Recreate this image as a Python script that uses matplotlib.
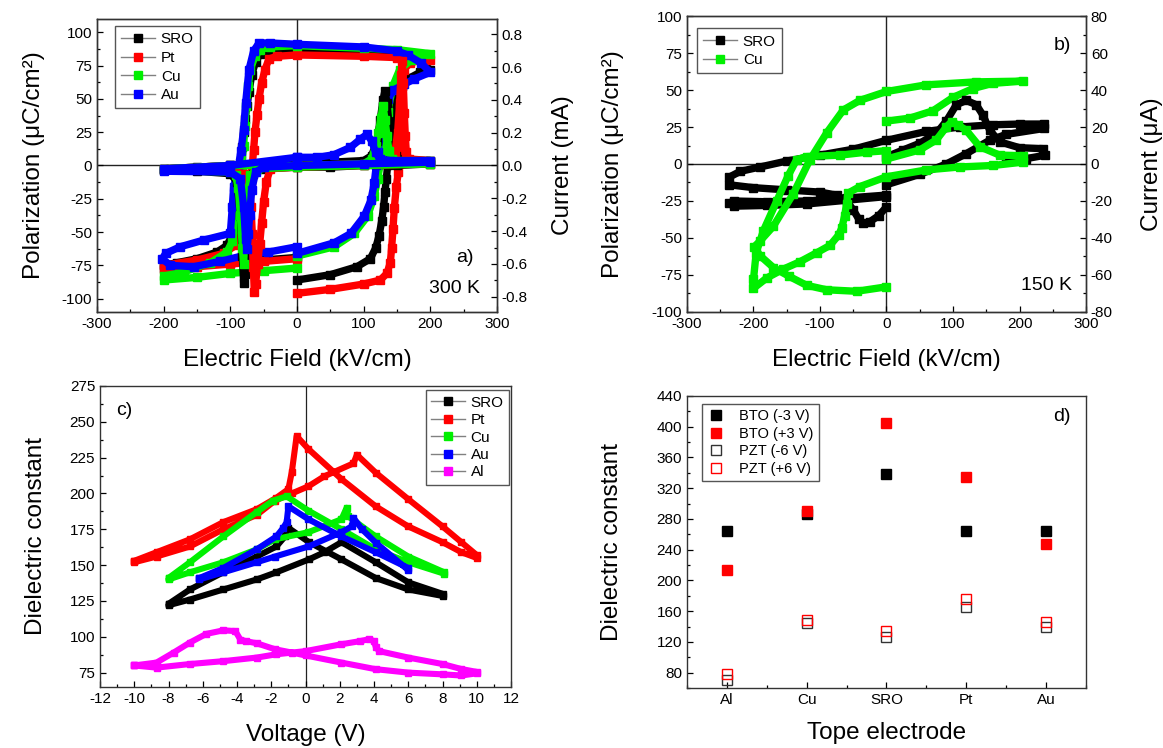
import matplotlib
matplotlib.use('Agg')
import matplotlib.pyplot as plt
from matplotlib.lines import Line2D
from matplotlib.ticker import MultipleLocator, FormatStrFormatter

plt.rcParams['font.family'] = ['Liberation Sans', 'DejaVu Sans']
plt.rcParams['axes.unicode_minus'] = False

# ---------------- Panel a data: P-E loops (uC/cm2) at 300 K ----------------
a_sro_E = [0, 50, 90, 110, 118, 123, 127, 130, 132, 134, 136, 138, 141, 145, 150, 158, 170, 185, 200, 180,
           150, 100, 0, -40, -55, -62, -68, -72, -75, -78, -80, -82, -84, -86, -88, -90, -93, -97, -105, -120,
           -150, -180, -200, -200, -150, -100, -50, 0]
a_sro_P = [-86, -82, -76, -70, -62, -53, -42, -31, -20, -10, 0, 12, 25, 38, 50, 60, 66, 70, 72, 80,
           84, 85, 86, 86, 84, 78, 68, 55, 45, 35, 25, 14, 4, -6, -18, -30, -42, -52, -60, -65,
           -70, -73, -75, -77, -75, -73, -71, -69]
a_pt_E = [0, 50, 100, 125, 135, 140, 142, 144, 146, 149, 152, 154, 156, 157, 158, 160, 170, 185, 200, 150,
          100, 0, -30, -42, -48, -53, -57, -60, -63, -65, -67, -69, -72, -76, -82, -92, -110, -150, -200, -200,
          -150, -100, -50, 0]
a_pt_P = [-96, -93, -89, -86, -81, -73, -62, -48, -32, -16, -5, 5, 20, 40, 60, 72, 77, 79, 79, 81,
          82, 83, 82, 80, 72, 62, 50, 38, 25, 12, 0, -12, -25, -38, -50, -60, -66, -71, -75, -78,
          -76, -74, -72, -70]
a_cu_E = [0, 56, 86, 106, 116, 121, 126, 131, 136, 144, 154, 171, 200, 150, 100, 0, -40, -55, -63, -70,
          -73, -76, -78, -80, -83, -85, -88, -92, -97, -105, -130, -170, -200, -200, -150, -100, -50, 0]
a_cu_P = [-68, -61, -51, -38, -23, -10, 4, 22, 40, 60, 72, 79, 84, 87, 88, 90, 89, 87, 82, 72,
          60, 45, 30, 15, 0, -15, -30, -45, -57, -65, -73, -80, -83, -86, -84, -81, -79, -77]
a_au_E = [0, 56, 81, 101, 111, 116, 119, 121, 126, 131, 136, 146, 161, 176, 200, 186, 166, 150, 100, 0,
          -40, -57, -65, -72, -77, -80, -84, -88, -95, -97, -100, -140, -175, -197, -202, -190, -155, -115, -75, -43, 0]
a_au_P = [-66, -58, -51, -38, -26, -13, 0, 10, 25, 40, 50, 57, 61, 65, 70, 77, 83, 86, 89, 91,
          92, 92, 86, 72, 47, 27, 11, -1, -16, -31, -51, -56, -61, -66, -70, -75, -76, -72, -67, -65, -61]

# Panel a currents (mA)
a_sro_IE = [0, 50, 100, 112, 120, 125, 129, 132, 135, 138, 142, 148, 158, 200, 200, 150, 100, 50, 0, -50,
            -66, -71, -74, -76, -78, -80, -82, -85, -90, -100, -150, -200, -200, -150, -100, -50, 0]
a_sro_I = [0.02, 0.02, 0.03, 0.06, 0.15, 0.28, 0.4, 0.455, 0.38, 0.25, 0.13, 0.06, 0.035, 0.03, 0.01, 0.0, 0.0, -0.01, -0.01, -0.02,
           -0.05, -0.15, -0.32, -0.5, -0.66, -0.715, -0.55, -0.3, -0.1, -0.05, -0.035, -0.03, -0.02, -0.01, 0.0, 0.01, 0.02]
a_pt_IE = [0, 100, 140, 147, 151, 154, 156, 158, 159.5, 161, 162.5, 164, 168, 200, 200, 100, 0, -40, -46, -50,
           -53, -56, -59, -62, -64, -65.5, -67, -69, -72, -80, -100, -200, -200, -100, 0]
a_pt_I = [0.0, 0.01, 0.03, 0.08, 0.2, 0.38, 0.55, 0.64, 0.5, 0.32, 0.18, 0.08, 0.04, 0.03, 0.01, 0.0, -0.01, -0.02, -0.1, -0.22,
          -0.35, -0.48, -0.6, -0.72, -0.77, -0.62, -0.42, -0.25, -0.12, -0.05, -0.035, -0.03, -0.02, 0.0, 0.0]
a_cu_IE = [0, 100, 112, 118, 122, 126, 129, 132, 135, 138, 142, 150, 200, 200, 100, 0, -60, -70, -75, -78,
           -80, -82, -85, -88, -92, -100, -200, -200, -100, 0]
a_cu_I = [0.0, 0.01, 0.04, 0.12, 0.2, 0.29, 0.365, 0.28, 0.18, 0.09, 0.04, 0.03, 0.03, 0.01, 0.0, -0.01, -0.02, -0.06, -0.2, -0.4,
          -0.6, -0.5, -0.3, -0.14, -0.06, -0.04, -0.03, -0.02, 0.0, 0.0]
a_au_IE = [0, 30, 55, 80, 95, 105, 112, 118, 124, 140, 200, 200, 100, 0, -50, -62, -68, -71, -73, -75,
           -77, -80, -85, -100, -200, -200, -100, 0]
a_au_I = [0.05, 0.05, 0.065, 0.11, 0.16, 0.19, 0.15, 0.08, 0.04, 0.03, 0.03, 0.02, 0.01, 0.0, -0.01, -0.04, -0.15, -0.3, -0.42, -0.51,
          -0.45, -0.25, -0.08, -0.04, -0.035, -0.02, 0.0, 0.05]

# ---------------- Panel b data (150 K) ----------------
b_sro_E = [0, 50, 90, 120, 155, 180, 237, 237, 200, 160, 110, 60, 0, -50, -100, -150, -190, -220, -237, -237,
           -200, -150, -100, -75, -60, -50, -42, -35, -25, -12, 0]
b_sro_P = [-14, -7, 0, 7, 16, 20, 24, 27, 27, 26.5, 25, 22, 16, 10, 6, 2, -2, -5, -9, -14,
           -16, -17.5, -19, -21, -25, -31, -37, -40, -39, -35, -29]
b_sro_lowE = [0, -60, -120, -180, -230, -237, -230, -180, -120, -60, 0]
b_sro_lowP = [-22, -24.5, -27, -28, -28.5, -26.5, -25, -25.5, -25, -23, -21]
b_sro_IE = [0, 25, 50, 75, 90, 105, 120, 135, 145, 155, 170, 200, 235, 238, 210, 180]
b_sro_I = [3.9, 7.6, 11.2, 16.6, 23.2, 32, 34.4, 32, 26.4, 18.4, 12, 8.8, 8.3, 4.7, 2.9, 2.5]

b_cu_E = [0, 35, 70, 100, 130, 160, 205, 135, 60, 0, -40, -65, -90, -115, -140, -170, -190, -199, -190, -170,
          -146, -120, -90, -45, 0]
b_cu_P = [29, 31, 36, 45, 51, 54.5, 56, 55.5, 53.5, 49, 43, 36.5, 21, 3, -20, -42, -52, -56, -62, -70,
          -76, -82, -85, -86, -83]
b_cu_IE = [0, 50, 75, 90, 98, 108, 120, 140, 170, 205, 205, 160, 110, 60, 0, -40, -58, -60, -63, -67,
           -72, -85, -105, -130, -155, -180, -200, -200, -196, -185, -165, -148, -135, -120, -70, -30, 0]
b_cu_I = [2.7, 7.6, 13, 20, 22.9, 21, 18.2, 9.4, 4.8, 4.5, 1, -0.8, -1.6, -3.2, -6.9, -12.2, -15.8, -21.6, -28, -34.4,
          -38.4, -44, -48, -52.8, -56.8, -61.6, -67.2, -62.4, -48, -36, -20, -6.4, 2.4, 4, 4.8, 6.4, 7.2]

# ---------------- Panel c data: C-V butterflies ----------------
c_sro_V = [-8, -6.75, -4.8, -2.85, -1.7, -1.2, -1.0, 0.2, 2.1, 4.1, 6, 8, 8, 6, 4.1, 2.1, 1.1, 0.2, -1.7, -2.85,
           -4.8, -6.75, -8, -8]
c_sro_D = [123, 133, 145, 156, 163, 170, 176, 166, 154, 141, 133, 128.5, 130, 138, 152, 166, 159, 154, 145, 140,
           133, 126, 122, 123]
c_pt_V = [-10, -8.7, -6.75, -4.8, -2.85, -1.7, -1.0, -0.8, -0.52, 0.17, 2.1, 4.1, 6, 8, 9.1, 10, 10, 9.1, 8, 6,
          4.1, 3.0, 2.8, 1.1, 0.17, -0.8, -1.78, -2.85, -4.8, -6.75, -8.7, -10, -10]
c_pt_D = [153, 159, 168, 180, 189, 197, 203, 215, 240, 231, 210, 191, 177, 166, 159, 155, 157, 166, 177, 196,
          214.5, 227, 221, 212, 205, 200, 195, 185, 175, 163, 156, 152, 153]
c_cu_V = [-8, -6.75, -4.8, -2.85, -1.9, -1.1, 0.17, 2.1, 4.1, 6, 8.1, 8.1, 6, 4.1, 2.5, 2.4, 2.1, 0.17, -1.78, -2.85,
          -4.8, -6.75, -8, -8]
c_cu_D = [141, 152, 170, 187, 195, 198, 188, 175, 161, 152, 144, 145, 156, 170, 184, 190, 182, 173, 168, 161,
          152, 145, 140, 141]
c_au_V = [-6.2, -4.8, -2.85, -1.7, -1.3, -1.1, -1.0, 0.17, 2.1, 4.1, 6, 6, 4.1, 3.3, 2.8, 2.7, 2.1, 0.17, -1.78, -2.85,
          -4.8, -6.2, -6.2]
c_au_D = [141, 148, 161, 170, 176, 180, 191, 182, 170, 159, 148, 146.5, 165.7, 175, 183, 177, 173, 163, 156, 152,
          145, 140, 141]
c_al_V = [-10, -8.7, -6.75, -4.8, -2.85, -1.7, 0, 2.1, 3.2, 3.7, 4.0, 4.1, 4.3, 6, 8, 9.1, 10, 10, 9.1, 8,
          6, 4.1, 2.1, 0, -0.8, -1.78, -2.85, -3.5, -3.8, -4.1, -4.8, -5.8, -6.75, -7.7, -8.7, -10, -10]
c_al_D = [80, 78.5, 81, 83, 85.5, 87.8, 90, 94.8, 97, 98.3, 97, 93, 90, 85.5, 81, 77.5, 75.5, 74.5, 73, 73.8,
          75, 77.4, 82, 87, 89, 91.3, 95.5, 97, 98, 104, 104.5, 102, 96, 89, 82, 80, 80]

# ---------------- Panel d data ----------------
d_electrodes = ['Al', 'Cu', 'SRO', 'Pt', 'Au']
d_bto_m3 = [264, 286, 338, 264, 264]
d_bto_p3 = [213, 290, 405, 334, 248]
d_pzt_m6 = [70, 144, 127, 166, 140]
d_pzt_p6 = [78, 149, 134, 176, 146]

BLACK = '#000000'
RED = '#ff0000'
GREEN = '#00f000'
BLUE = '#0000ff'
MAG = '#ff00ff'

TICK_FS = 11
LABEL_FS = 17.5
LEG_FS = 11

fig = plt.figure(figsize=(11.63, 7.48), dpi=100)


def band(ax, x, y, color, lw=5.3, ms=5.6, z=2):
    ax.plot(x, y, color=color, lw=lw, marker='s', ms=ms, mfc=color, mec=color,
            solid_joinstyle='round', solid_capstyle='butt', zorder=z)


def style(ax, right=False):
    ax.tick_params(which='both', direction='in', labelsize=TICK_FS, top=False,
                   right=False, left=not right, width=0.9)
    ax.tick_params(which='major', length=4)
    ax.tick_params(which='minor', length=2.5)
    for s in ax.spines.values():
        s.set_linewidth(1.0)
        s.set_color('#333333')


def leg_handle(color):
    return Line2D([], [], color='#808080', lw=1, marker='s', ms=6, mfc=color, mec=color)


# ---------------- Panel a ----------------
ax = fig.add_axes([0.0834, 0.5829, 0.3439, 0.3917])
ax.axvline(0, color='#222222', lw=1.0, zorder=1)
ax.axhline(0, color='#222222', lw=1.0, zorder=1)
for (x, y, c) in [(a_sro_E, a_sro_P, BLACK), (a_pt_E, a_pt_P, RED), (a_cu_E, a_cu_P, GREEN), (a_au_E, a_au_P, BLUE)]:
    band(ax, x, y, c)
ax.set_xlim(-300, 300)
ax.set_ylim(-110, 110)
ax.xaxis.set_major_locator(MultipleLocator(100))
ax.xaxis.set_minor_locator(MultipleLocator(50))
ax.yaxis.set_major_locator(MultipleLocator(25))
ax.yaxis.set_minor_locator(MultipleLocator(12.5))
style(ax)
ax.set_xlabel('Electric Field (kV/cm)', fontsize=LABEL_FS, labelpad=13)
ax.set_ylabel('Polarization (μC/cm²)', fontsize=LABEL_FS, labelpad=12)
ax2 = ax.twinx()
for (x, y, c) in [(a_sro_IE, a_sro_I, BLACK), (a_pt_IE, a_pt_I, RED), (a_cu_IE, a_cu_I, GREEN), (a_au_IE, a_au_I, BLUE)]:
    band(ax2, x, y, c)
ax2.set_ylim(-0.893, 0.893)
ax2.yaxis.set_major_locator(MultipleLocator(0.2))
ax2.yaxis.set_minor_locator(MultipleLocator(0.1))
ax2.yaxis.set_major_formatter(FormatStrFormatter('%.1f'))
style(ax2, right=True)
ax2.tick_params(which='both', right=True, left=False)
ax2.set_ylabel('Current (mA)', fontsize=LABEL_FS, labelpad=17)
ax.legend([leg_handle(c) for c in [BLACK, RED, GREEN, BLUE]], ['SRO', 'Pt', 'Cu', 'Au'],
          loc='upper left', bbox_to_anchor=(0.045, 0.975), borderaxespad=0, fontsize=LEG_FS,
          fancybox=False, edgecolor='#555555', handlelength=2.2, labelspacing=0.3,
          handletextpad=0.4, borderpad=0.4, framealpha=1)
ax.text(252, -69, 'a)', fontsize=14, ha='center', va='center')
ax.text(236, -92, '300 K', fontsize=14, ha='center', va='center')

# ---------------- Panel b ----------------
bx = fig.add_axes([0.5907, 0.5829, 0.3431, 0.3957])
bx.axvline(0, color='#222222', lw=1.0, zorder=1)
bx.axhline(0, color='#222222', lw=1.0, zorder=1)
band(bx, b_sro_E, b_sro_P, BLACK)
band(bx, b_sro_lowE, b_sro_lowP, BLACK)
band(bx, b_cu_E, b_cu_P, GREEN)
bx.set_xlim(-300, 300)
bx.set_ylim(-100, 100)
bx.xaxis.set_major_locator(MultipleLocator(100))
bx.xaxis.set_minor_locator(MultipleLocator(50))
bx.yaxis.set_major_locator(MultipleLocator(25))
bx.yaxis.set_minor_locator(MultipleLocator(12.5))
style(bx)
bx.set_xlabel('Electric Field (kV/cm)', fontsize=LABEL_FS, labelpad=13)
bx.set_ylabel('Polarization (μC/cm²)', fontsize=LABEL_FS, labelpad=20)
bx2 = bx.twinx()
band(bx2, b_sro_IE, b_sro_I, BLACK)
band(bx2, b_cu_IE, b_cu_I, GREEN)
bx2.set_ylim(-80, 80)
bx2.yaxis.set_major_locator(MultipleLocator(20))
bx2.yaxis.set_minor_locator(MultipleLocator(10))
style(bx2, right=True)
bx2.tick_params(which='both', right=True, left=False)
bx2.set_ylabel('Current (μA)', fontsize=LABEL_FS, labelpad=20)
bx.legend([leg_handle(c) for c in [BLACK, GREEN]], ['SRO', 'Cu'],
          loc='upper left', bbox_to_anchor=(0.025, 0.958), borderaxespad=0, fontsize=LEG_FS,
          fancybox=False, edgecolor='#555555', handlelength=2.2, labelspacing=0.3,
          handletextpad=0.4, borderpad=0.4, framealpha=1)
bx.text(265, 80, 'b)', fontsize=14, ha='center', va='center')
bx.text(241, -82, '150 K', fontsize=14, ha='center', va='center')

# ---------------- Panel c ----------------
cx = fig.add_axes([0.0860, 0.0816, 0.3534, 0.4024])
cx.axvline(0, color='#222222', lw=0.9, zorder=1)
for (x, y, c) in [(c_sro_V, c_sro_D, BLACK), (c_pt_V, c_pt_D, RED), (c_cu_V, c_cu_D, GREEN),
                  (c_au_V, c_au_D, BLUE), (c_al_V, c_al_D, MAG)]:
    band(cx, x, y, c, lw=4.4, ms=5.0)
cx.set_xlim(-12, 12)
cx.set_ylim(65, 275)
cx.xaxis.set_major_locator(MultipleLocator(2))
cx.xaxis.set_minor_locator(MultipleLocator(1))
cx.yaxis.set_minor_locator(MultipleLocator(12.5))
cx.set_yticks([75, 100, 125, 150, 175, 200, 225, 250, 275])
style(cx)
cx.set_xlabel('Voltage (V)', fontsize=LABEL_FS, labelpad=13)
cx.set_ylabel('Dielectric constant', fontsize=LABEL_FS, labelpad=16)
cx.legend([leg_handle(c) for c in [BLACK, RED, GREEN, BLUE, MAG]], ['SRO', 'Pt', 'Cu', 'Au', 'Al'],
          loc='upper right', bbox_to_anchor=(0.995, 0.985), borderaxespad=0, fontsize=LEG_FS,
          fancybox=False, edgecolor='#555555', handlelength=2.2, labelspacing=0.22,
          handletextpad=0.4, borderpad=0.35, framealpha=1)
cx.text(-10.6, 258, 'c)', fontsize=14, ha='center', va='center')

# ---------------- Panel d ----------------
dx = fig.add_axes([0.5907, 0.0802, 0.3431, 0.3904])
xs = list(range(len(d_electrodes)))
dx.plot(xs, d_bto_m3, ls='none', marker='s', ms=7.5, mfc=BLACK, mec=BLACK, label='BTO (-3 V)')
dx.plot(xs, d_bto_p3, ls='none', marker='s', ms=7.5, mfc=RED, mec=RED, label='BTO (+3 V)')
dx.plot(xs, d_pzt_m6, ls='none', marker='s', ms=7.5, mfc='none', mec='#333333', mew=1.0, label='PZT (-6 V)')
dx.plot(xs, d_pzt_p6, ls='none', marker='s', ms=7.5, mfc='none', mec=RED, mew=1.0, label='PZT (+6 V)')
dx.set_xlim(-0.5, 4.5)
dx.set_ylim(60, 440)
dx.set_xticks(xs)
dx.set_xticklabels(d_electrodes)
dx.xaxis.set_minor_locator(MultipleLocator(0.5))
dx.yaxis.set_minor_locator(MultipleLocator(20))
dx.set_yticks([80, 120, 160, 200, 240, 280, 320, 360, 400, 440])
style(dx)
dx.set_xlabel('Tope electrode', fontsize=LABEL_FS, labelpad=11)
dx.set_ylabel('Dielectric constant', fontsize=LABEL_FS, labelpad=24)
dx.legend(loc='upper left', bbox_to_anchor=(0.038, 0.973), borderaxespad=0, fontsize=10.5,
          fancybox=False, edgecolor='#555555', handlelength=1.2, labelspacing=0.25,
          handletextpad=1.0, borderpad=0.35, framealpha=1)
dx.text(4.2, 413, 'd)', fontsize=14, ha='center', va='center')

fig.savefig('out.png', dpi=100)
